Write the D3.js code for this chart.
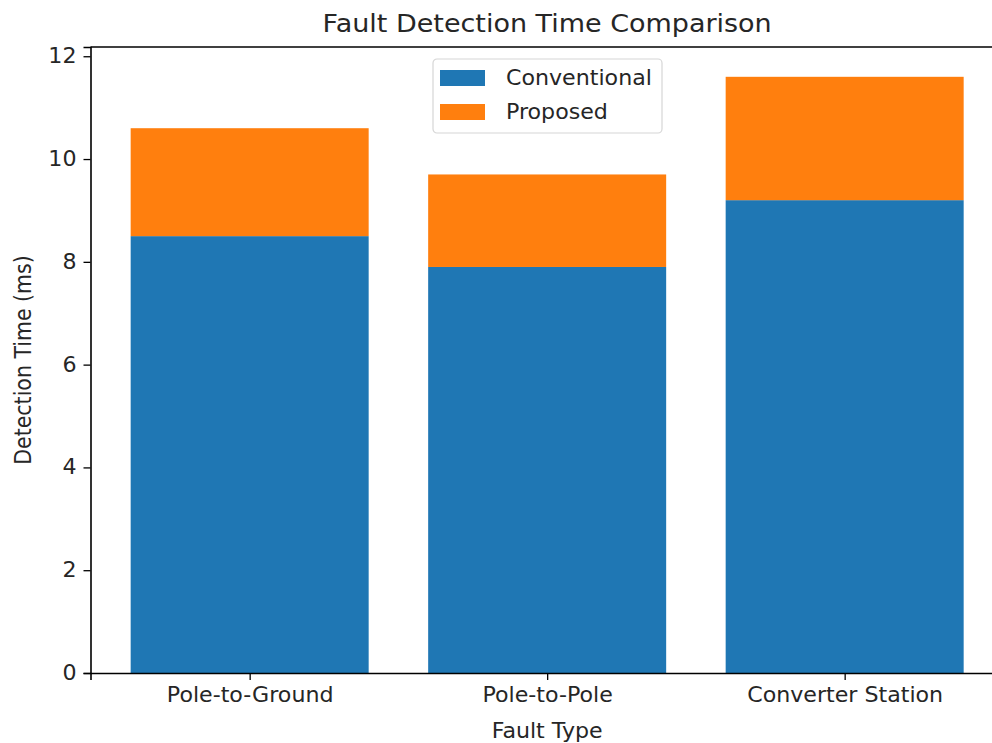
<!DOCTYPE html>
<html>
<head>
<meta charset="utf-8">
<script src="https://cdn.jsdelivr.net/npm/d3@7"></script>
<style>
  body { margin: 0; background: #fff; }
  text { font-family: "DejaVu Sans", sans-serif; fill: #262626; }
</style>
</head>
<body>
<div id="chart"></div>
<script>
const categories   = ['Pole-to-Ground', 'Pole-to-Pole', 'Converter Station'];
const conventional = [8.5, 7.9, 9.2];
const proposed     = [2.1, 1.8, 2.4];
const yTicks       = [0, 2, 4, 6, 8, 10, 12];
const seriesNames  = ['Conventional', 'Proposed'];
const colors       = ['#1f77b4', '#ff7f0e'];

const W = 992, H = 743;
const plotLeft = 90.5, plotTop = 47, plotBottom = 673;
const unit = 297.5;
const sx = 1.08; // the reference glyphs are a little wider than tall

const svg = d3.select('#chart').append('svg')
  .attr('width', W).attr('height', H);

// x: category index with a small margin around the bars
const x = d3.scaleLinear()
  .domain([-0.535, 2.535])
  .range([plotLeft, plotLeft + 3.07 * unit]);

const totals = conventional.map((c, i) => c + proposed[i]);
const y = d3.scaleLinear()
  .domain([0, d3.max(totals) * 1.05])
  .range([plotBottom, plotTop]);

const barW = 0.8;

// Conventional bars
svg.selectAll('rect.conv')
  .data(conventional)
  .join('rect')
  .attr('class', 'conv')
  .attr('x', (d, i) => x(i - barW / 2))
  .attr('width', (d, i) => x(i + barW / 2) - x(i - barW / 2))
  .attr('y', d => y(d))
  .attr('height', d => y(0) - y(d))
  .attr('fill', colors[0]);

// Proposed bars stacked on top
svg.selectAll('rect.prop')
  .data(proposed)
  .join('rect')
  .attr('class', 'prop')
  .attr('x', (d, i) => x(i - barW / 2))
  .attr('width', (d, i) => x(i + barW / 2) - x(i - barW / 2))
  .attr('y', (d, i) => y(conventional[i] + d))
  .attr('height', (d, i) => y(conventional[i]) - y(conventional[i] + d))
  .attr('fill', colors[1]);

// Axes
const xAxis = svg.append('g')
  .attr('transform', `translate(0,${plotBottom})`)
  .call(d3.axisBottom(x).tickValues([0, 1, 2]).tickFormat(i => categories[i])
    .tickSizeOuter(0).tickSize(7).tickPadding(7));

const yAxis = svg.append('g')
  .attr('transform', `translate(${plotLeft},0)`)
  .call(d3.axisLeft(y).tickValues(yTicks).tickFormat(d3.format('d'))
    .tickSizeOuter(0).tickSize(7).tickPadding(7));

[xAxis, yAxis].forEach(ax => {
  ax.select('.domain').attr('stroke', '#000').attr('stroke-width', 1.6);
  ax.selectAll('.tick line').attr('stroke', '#000').attr('stroke-width', 1.3);
  ax.selectAll('.tick text')
    .attr('font-size', '20.5px')
    .attr('font-family', '"DejaVu Sans", sans-serif')
    .attr('fill', '#262626')
    .attr('transform', function () {
      const tx = +this.getAttribute('x') || 0;
      const ty = +this.getAttribute('y') || 0;
      return `translate(${tx},${ty}) scale(${sx},1)`;
    })
    .attr('x', 0).attr('y', 0);
});

// top spine (right spine falls off the canvas)
svg.append('line')
  .attr('x1', plotLeft).attr('x2', x(2.535))
  .attr('y1', plotTop).attr('y2', plotTop)
  .attr('stroke', '#000').attr('stroke-width', 1.6);

// Title and axis labels
svg.append('text')
  .attr('transform', `translate(${x(1)},32) scale(${sx},1)`)
  .attr('text-anchor', 'middle')
  .attr('font-size', '25px')
  .text('Fault Detection Time Comparison');

svg.append('text')
  .attr('transform', `translate(${x(1)},738) scale(${sx},1)`)
  .attr('text-anchor', 'middle')
  .attr('font-size', '20.5px')
  .text('Fault Type');

svg.append('text')
  .attr('transform', `translate(31,${(plotTop + plotBottom) / 2}) rotate(-90) scale(1,${sx})`)
  .attr('text-anchor', 'middle')
  .attr('font-size', '20.5px')
  .text('Detection Time (ms)');

// Legend
const lg = svg.append('g').attr('transform', 'translate(433,59)');
lg.append('rect')
  .attr('width', 229).attr('height', 74).attr('rx', 4)
  .attr('fill', '#fff').attr('fill-opacity', 0.8)
  .attr('stroke', '#d6d6d6').attr('stroke-width', 1.2);

const items = lg.selectAll('g.item')
  .data(seriesNames)
  .join('g')
  .attr('class', 'item')
  .attr('transform', (d, i) => `translate(7,${11 + i * 34})`);

items.append('rect')
  .attr('width', 45).attr('height', 16)
  .attr('fill', (d, i) => colors[i]);

items.append('text')
  .attr('transform', `translate(66,15) scale(${sx},1)`)
  .attr('font-size', '20.5px')
  .text(d => d);
</script>
</body>
</html>
